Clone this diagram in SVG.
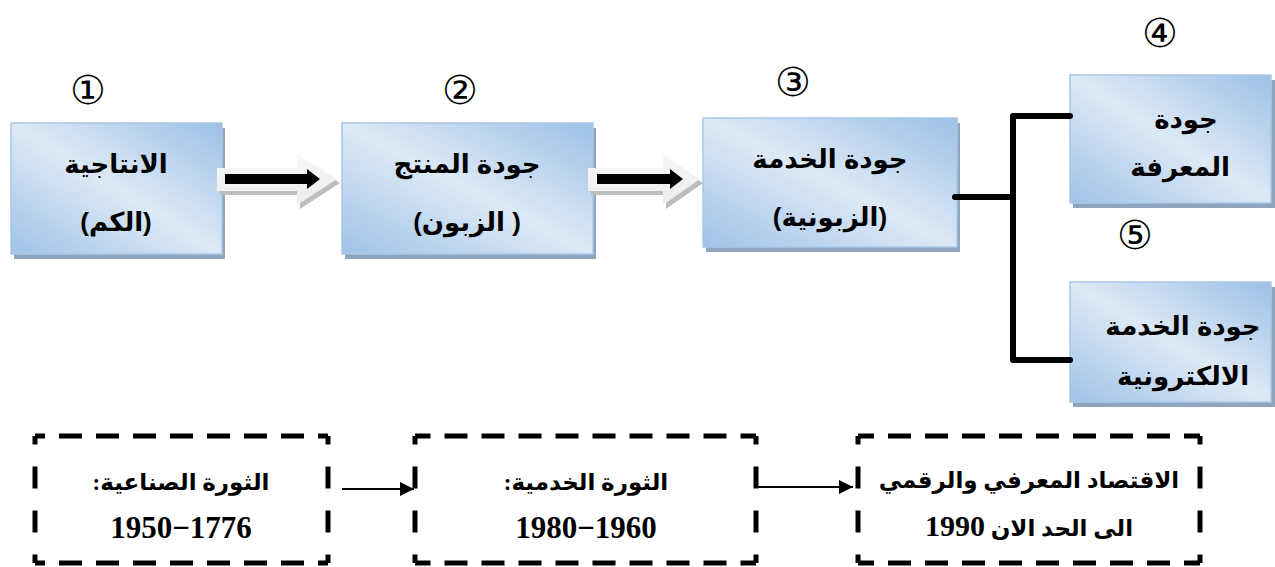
<svg xmlns="http://www.w3.org/2000/svg" width="1275" height="567" viewBox="0 0 1275 567">
  <defs>
    <linearGradient id="boxFill" x1="1" y1="0" x2="0" y2="1">
      <stop offset="0" stop-color="#9cc0e5"/>
      <stop offset="0.5" stop-color="#dde9f6"/>
      <stop offset="1" stop-color="#9fc2e6"/>
    </linearGradient>
    <linearGradient id="arrowFill" x1="0" y1="0" x2="0" y2="1">
      <stop offset="0" stop-color="#f7f7f7"/>
      <stop offset="1" stop-color="#ececec"/>
    </linearGradient>
    <marker id="tri" viewBox="0 0 10 10" refX="10" refY="5" markerWidth="8" markerHeight="7" markerUnits="strokeWidth" orient="auto">
      <path d="M0,0 L10,5 L0,10 z" fill="#000"/>
    </marker>
  </defs>
  <style>
    .shadow { fill: #8ea5bd; }
    .box { fill: url(#boxFill); stroke: #a9c8e8; stroke-width: 1.5; }
    .lbl { font-family: "Liberation Sans", "DejaVu Sans", sans-serif; font-weight: bold; font-size: 26px; fill: #000; text-anchor: middle; direction: rtl; }
    .num { font-family: "DejaVu Serif", "DejaVu Sans", serif; font-size: 40px; fill: #000; text-anchor: middle; }
    .era { font-family: "Liberation Serif", "DejaVu Sans", serif; font-weight: bold; font-size: 23px; fill: #000; text-anchor: middle; direction: rtl; }
    .year { font-family: "Liberation Serif", "DejaVu Serif", serif; font-weight: bold; font-size: 31px; fill: #000; text-anchor: middle; }
    .blockOuter { fill: url(#arrowFill); }
    .blockShadow { fill: #bdbdbd; }
    .blockInner { fill: #000; }
    .tree { fill: none; stroke: #000; stroke-width: 6; stroke-linejoin: round; stroke-linecap: round; }
    .hdash { stroke: #000; stroke-width: 5; stroke-dasharray: 23 14; fill: none; }
    .vdash { stroke: #000; stroke-width: 5; stroke-dasharray: 22 22; stroke-dashoffset: 13.5; fill: none; }
    .link { stroke: #000; stroke-width: 2; fill: none; marker-end: url(#tri); }
  </style>

  <!-- stage numbers -->
  <g id="numbers">
    <text class="num" x="88" y="104">①</text>
    <text class="num" x="460" y="104">②</text>
    <text class="num" x="793" y="96">③</text>
    <text class="num" x="1160" y="47">④</text>
    <text class="num" x="1135" y="249">⑤</text>
  </g>

  <!-- quality stages -->
  <g id="node-productivity">
    <rect class="shadow" x="14" y="128" width="211" height="131"/>
    <rect class="box" x="11" y="123" width="211" height="131"/>
    <text class="lbl" x="116" y="173">الانتاجية</text>
    <text class="lbl" x="116" y="231">(الكم)</text>
  </g>
  <g id="node-product-quality">
    <rect class="shadow" x="345" y="128" width="251" height="131"/>
    <rect class="box" x="342" y="123" width="251" height="131"/>
    <text class="lbl" x="467" y="173">جودة المنتج</text>
    <text class="lbl" x="467" y="231">( الزبون)</text>
  </g>
  <g id="node-service-quality">
    <rect class="shadow" x="706" y="123" width="254" height="129"/>
    <rect class="box" x="703" y="118" width="254" height="129"/>
    <text class="lbl" x="830" y="168">جودة الخدمة</text>
    <text class="lbl" x="830" y="226">(الزبونية)</text>
  </g>
  <g id="node-knowledge-quality">
    <rect class="shadow" x="1073" y="80" width="202" height="128"/>
    <rect class="box" x="1070" y="75" width="201" height="128"/>
    <text class="lbl" x="1186" y="128">جودة</text>
    <text class="lbl" x="1180" y="176">المعرفة</text>
  </g>
  <g id="node-eservice-quality">
    <rect class="shadow" x="1073" y="287" width="202" height="120"/>
    <rect class="box" x="1070" y="282" width="201" height="120"/>
    <text class="lbl" x="1183" y="335">جودة الخدمة</text>
    <text class="lbl" x="1183" y="385">الالكترونية</text>
  </g>

  <!-- eras -->
  <g id="era-industrial">
    <path class="hdash" d="M35,436 H328" stroke-dashoffset="13"/>
    <path class="hdash" d="M35,563 H328" stroke-dashoffset="13"/>
    <path class="vdash" d="M35,436 V563"/>
    <path class="vdash" d="M328,436 V563"/>
    <text class="era" x="181" y="490">الثورة الصناعية:</text>
    <text class="year" x="181" y="538">1950−1776</text>
  </g>
  <g id="era-service">
    <path class="hdash" d="M415,436 H756" stroke-dashoffset="7.5"/>
    <path class="hdash" d="M415,563 H756" stroke-dashoffset="7.5"/>
    <path class="vdash" d="M415,436 V563"/>
    <path class="vdash" d="M756,436 V563"/>
    <text class="era" x="586" y="490">الثورة الخدمية:</text>
    <text class="year" x="586" y="538">1980−1960</text>
  </g>
  <g id="era-digital">
    <path class="hdash" d="M858,436 H1200" stroke-dashoffset="7"/>
    <path class="hdash" d="M858,563 H1200" stroke-dashoffset="7"/>
    <path class="vdash" d="M858,436 V563"/>
    <path class="vdash" d="M1200,436 V563"/>
    <text class="era" x="1029" y="488">الاقتصاد المعرفي والرقمي</text>
    <text class="era" x="1029" y="536" font-size="24">الى الحد الان <tspan class="year" style="font-size:30px">1990</tspan></text>
  </g>

  <!-- connectors -->
  <g id="connectors">
    <!-- block arrows between stages -->
    <polygon class="blockShadow" points="220,172 300,172 300,158 340,183 300,209 300,195 220,195"/>
    <polygon class="blockOuter" points="217,168 297,168 297,154 337,179 297,205 297,191 217,191"/>
    <polygon class="blockInner" points="225,174 307,174 307,169 320,179 307,189 307,184 225,184"/>

    <polygon class="blockShadow" points="591,172 666,172 666,158 703,183 666,209 666,195 591,195"/>
    <polygon class="blockOuter" points="588,168 663,168 663,154 700,179 663,205 663,191 588,191"/>
    <polygon class="blockInner" points="597,174 670,174 670,169 683,179 670,189 670,184 597,184"/>

    <!-- branch to the two later stages -->
    <path class="tree" d="M955,197 H1013"/>
    <path class="tree" d="M1070,116 H1013 V360 H1070" stroke-linecap="butt"/>

    <!-- era links -->
    <path class="link" d="M342,489 H414"/>
    <path class="link" d="M758,487 H853"/>
  </g>
</svg>
